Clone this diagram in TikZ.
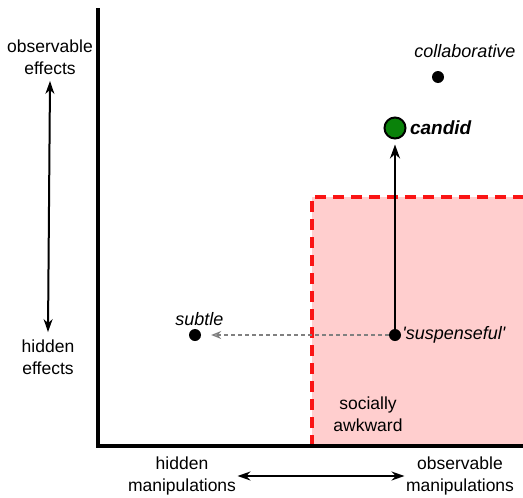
\documentclass[tikz,border=0pt]{standalone}
\usepackage{fontspec}
\setmainfont{Liberation Sans}
\usetikzlibrary{arrows.meta}
\definecolor{awkpink}{RGB}{255,206,206}
\definecolor{awkred}{RGB}{250,20,20}
\definecolor{candgreen}{RGB}{10,130,10}
\tikzset{
  lbl/.style={font=\fontsize{17.5}{22}\selectfont, align=center},
  ilbl/.style={font=\fontsize{18}{20}\selectfont\itshape},
  dot/.style={circle, fill=black, inner sep=0pt, minimum size=12pt},
  dbl/.style={line width=2pt, {Stealth[length=13pt,width=9pt]}-{Stealth[length=13pt,width=9pt]}}
}
\begin{document}
\begin{tikzpicture}[x=1pt,y=-1pt]
\useasboundingbox (0,0) rectangle (523,498);
% awkward region
\fill[awkpink] (312,197) rectangle (523,446);
\draw[awkred, line width=3.2pt, dash pattern=on 11pt off 7pt] (312,446) -- (312,197) -- (523,197);
% axes
\draw[line width=4.4pt] (98,8) -- (98,446) -- (525,446);

% points
\node[dot] (subtle) at (195,335) {};
\node[ilbl, above=1pt] at (subtle.north east) {subtle};
\node[dot] (susp) at (395,335) {};
\node[ilbl, anchor=west, inner sep=1pt] at (susp.east) {\textquotesingle suspenseful\textquotesingle};
\node[circle, draw=black, line width=2pt, fill=candgreen, inner sep=0pt, minimum size=21pt] (cand) at (395,128) {};
\node[ilbl, font=\fontsize{19}{20}\selectfont\itshape\bfseries, anchor=west] at (cand.east) {candid};
\node[dot] (collab) at (438,77) {};
\node[ilbl] at (465,51) {collaborative};
\node[lbl] at (368,414) {socially\\awkward};

\draw[gray, line width=1.3pt, dash pattern=on 4pt off 3pt, -{Stealth[length=10pt,width=8pt,open]}] (susp) -- ([xshift=10pt]subtle.east);
\draw[line width=2.4pt, -{Stealth[length=14pt,width=10pt]}] (susp) -- ([yshift=-5pt]cand.south);

% axis labels
\node[lbl] (obsE) at (50,57) {observable\\effects};
\node[lbl] (hidE) at (48,357) {hidden\\effects};
\draw[dbl] ([yshift=-3pt]obsE.south) -- ([yshift=4pt]hidE.north);
\node[lbl] (hidM) at (182,476) {hidden\\manipulations};
\node[lbl] (obsM) at (460,476) {observable\\manipulations};
\draw[dbl] ([xshift=-2pt]hidM.east) -- ([xshift=2pt]obsM.west);
\end{tikzpicture}
\end{document}
